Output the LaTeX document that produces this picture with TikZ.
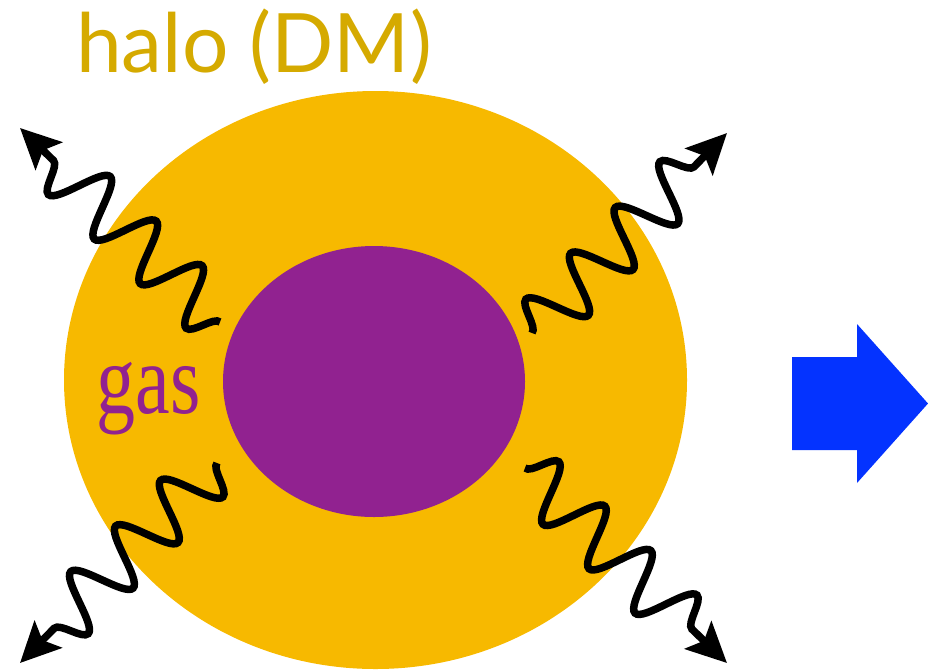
\documentclass[tikz,border=0pt]{standalone}
\usepackage{fontspec}
\newfontfamily\halofont{Lato}
\newfontfamily\gasfont{Liberation Serif}
\usetikzlibrary{shapes.geometric,decorations.pathmorphing,arrows.meta}
\definecolor{haloorange}{HTML}{F7B900}
\definecolor{gaspurple}{HTML}{912290}
\definecolor{halotext}{HTML}{D5AA00}
\definecolor{arrowblue}{HTML}{0433FF}
\tikzset{
  haloshape/.style={ellipse, fill=haloorange, draw=none, inner sep=0pt},
  gasshape/.style={ellipse, fill=gaspurple, draw=none, inner sep=0pt},
  photon/.style={line width=7.5pt, black, line cap=butt,
    decorate, decoration={snake, segment length=64pt, amplitude=28pt, post length=40pt},
    -{Stealth[length=40pt, width=38pt, inset=8pt]}},
}
\begin{document}
\begin{tikzpicture}[x=1pt,y=-1pt]
\useasboundingbox (0,0) rectangle (928,670);
\node[haloshape, minimum width=623pt, minimum height=578pt] (halo) at (375.5,380) {};
\node[gasshape, minimum width=302pt, minimum height=271pt] (gas) at (374,381.5) {};
\node[text=halotext, font=\halofont\fontsize{82}{82}\selectfont, anchor=base] (halolabel) at (254,72) {halo (DM)};
\node[text=gaspurple, font=\gasfont\fontsize{78}{78}\selectfont, anchor=base, yscale=1.28, transform shape] (gaslabel) at (148.5,413) {gas};
% photons
\coordinate (tlA) at (220,322); \coordinate (tlB) at (20,128);
\coordinate (trA) at (532,333); \coordinate (trB) at (727,133);
\coordinate (blA) at (217,463); \coordinate (blB) at (20,663);
\coordinate (brA) at (525,468); \coordinate (brB) at (727,663);
\draw[photon] (tlA) -- (tlB);
\draw[photon] (trA) -- (trB);
\draw[photon] (blA) -- (blB);
\draw[photon] (brA) -- (brB);
% blue arrow
\fill[arrowblue] (792,357) -- (857,357) -- (857,324) -- (928,403.5) -- (857,483) -- (857,450) -- (792,450) -- cycle;
\end{tikzpicture}
\end{document}
